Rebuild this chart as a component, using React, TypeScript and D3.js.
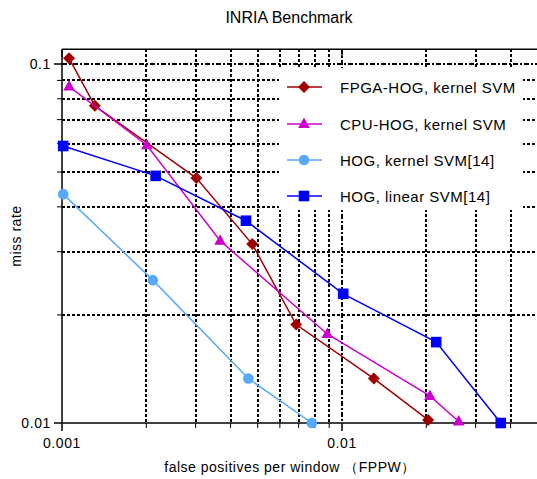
import React from "react";
import * as d3 from "d3";

const xTicksMajor = [0.001, 0.01];
const xTickLabels = ["0.001", "0.01"];
const xMinor = [0.002, 0.003, 0.004, 0.005, 0.006, 0.007, 0.008, 0.009, 0.02, 0.03, 0.04, 0.05];
const yTicksMajor = [0.1, 0.01];
const yTickLabels = ["0.1", "0.01"];
const yMinor = [0.02, 0.03, 0.04, 0.05, 0.06, 0.07, 0.08, 0.09];

const seriesNames = ["FPGA-HOG, kernel SVM", "CPU-HOG, kernel SVM", "HOG, kernel SVM[14]", "HOG, linear SVM[14]"];
const fpgaX = [0.00106, 0.00131, 0.00302, 0.00478, 0.00686, 0.013, 0.0203];
const fpgaY = [0.1037, 0.0765, 0.0481, 0.0315, 0.0188, 0.0133, 0.0102];
const cpuX = [0.00106, 0.00201, 0.00367, 0.00886, 0.0206, 0.0261];
const cpuY = [0.0865, 0.0594, 0.0322, 0.0177, 0.0119, 0.0101];
const hogKX = [0.00101, 0.00211, 0.00463, 0.0078];
const hogKY = [0.0434, 0.025, 0.0133, 0.01];
const hogLX = [0.00101, 0.00216, 0.00454, 0.0101, 0.0217, 0.0369];
const hogLY = [0.0591, 0.0488, 0.0366, 0.0229, 0.0168, 0.01];

const colors = ["#A00000", "#CC00CC", "#55AAFF", "#0000FF"];
const shapes = ["diamond", "triangle", "circle", "square"];

const FONT = "'Liberation Sans', Arial, sans-serif";

function Marker({ shape, x, y, color }: { shape: string; x: number; y: number; color: string }) {
  if (shape === "diamond") {
    return <path d={`M${x},${y - 6}L${x + 6},${y}L${x},${y + 6}L${x - 6},${y}Z`} fill={color} />;
  }
  if (shape === "triangle") {
    return <path d={`M${x},${y - 6.5}L${x + 5.8},${y + 4}L${x - 5.8},${y + 4}Z`} fill={color} />;
  }
  if (shape === "circle") {
    return <circle cx={x} cy={y} r={5.3} fill={color} />;
  }
  return <rect x={x - 5.3} y={y - 5.3} width={10.6} height={10.6} fill={color} />;
}

export default function App() {
  const x = d3.scaleLog().domain([0.001, 0.05]).range([62, 62 + 280 * Math.log10(50)]);
  const y = d3.scaleLog().domain([0.01, 0.1]).range([423, 64]);
  const top = y(0.11);
  const bottom = y(0.01);
  const left = x(0.001);
  const right = 540;

  const data = [
    fpgaX.map((v, i) => [v, fpgaY[i]]),
    cpuX.map((v, i) => [v, cpuY[i]]),
    hogKX.map((v, i) => [v, hogKY[i]]),
    hogLX.map((v, i) => [v, hogLY[i]]),
  ];
  const line = d3
    .line<number[]>()
    .x((d) => x(d[0]))
    .y((d) => y(d[1]));

  const legendRows = [87, 124, 160, 196];
  const px = (v: number) => Math.round(v);

  return (
    <svg
      width={537}
      height={479}
      style={{ position: "absolute", left: 0, top: 0, background: "#fff" }}
      fontFamily={FONT}
    >
      <rect x={0} y={0} width={537} height={479} fill="#fff" />
      <text x={289} y={23} textAnchor="middle" fontSize={16} fill="#000">
        INRIA Benchmark
      </text>

      {/* grid */}
      <g shapeRendering="crispEdges">
        {yMinor.map((v) => (
          <line key={"yg" + v} x1={left} x2={right} y1={px(y(v))} y2={px(y(v))} stroke="#000" strokeWidth={2} strokeDasharray="3,2" />
        ))}
        <line x1={left} x2={right} y1={px(y(0.1))} y2={px(y(0.1))} stroke="#000" strokeWidth={2} strokeDasharray="5,2,2,2" />
        {xMinor.map((v) => (
          <line key={"xg" + v} x1={px(x(v))} x2={px(x(v))} y1={top} y2={bottom} stroke="#000" strokeWidth={2} strokeDasharray="3,2" />
        ))}
        <line x1={px(x(0.01))} x2={px(x(0.01))} y1={top} y2={bottom} stroke="#000" strokeWidth={2} strokeDasharray="5,2,2,2" />
      </g>

      {/* axes */}
      <line x1={left} x2={right} y1={top} y2={top} stroke="#000" strokeWidth={1.5} />
      <line x1={left} x2={right} y1={bottom} y2={bottom} stroke="#000" strokeWidth={1.5} />
      <line x1={left} x2={left} y1={top} y2={bottom} stroke="#000" strokeWidth={1.5} />
      {xTicksMajor.map((v, i) => (
        <g key={"xt" + v}>
          <line x1={x(v)} x2={x(v)} y1={bottom} y2={bottom + 8} stroke="#000" strokeWidth={1.5} />
          <line x1={x(v)} x2={x(v)} y1={top} y2={top + 8} stroke="#000" strokeWidth={1.5} />
          <text x={x(v)} y={448} textAnchor="middle" fontSize={14} letterSpacing={0.6} fill="#000">
            {xTickLabels[i]}
          </text>
        </g>
      ))}
      {xMinor.map((v) => (
        <line key={"xm" + v} x1={x(v)} x2={x(v)} y1={bottom} y2={bottom + 5} stroke="#000" strokeWidth={1} />
      ))}
      {yTicksMajor.map((v, i) => (
        <g key={"yt" + v}>
          <line x1={left - 8} x2={left} y1={y(v)} y2={y(v)} stroke="#000" strokeWidth={1.5} />
          <text x={left - 11} y={y(v) + 5} textAnchor="end" fontSize={14} letterSpacing={0.6} fill="#000">
            {yTickLabels[i]}
          </text>
        </g>
      ))}
      {yMinor.map((v) => (
        <line key={"ym" + v} x1={left - 5} x2={left} y1={y(v)} y2={y(v)} stroke="#000" strokeWidth={1} />
      ))}

      <text x={290} y={472} textAnchor="middle" fontSize={14} letterSpacing={0.5} fill="#000">
        false positives per window （FPPW）
      </text>
      <text
        transform={`translate(21,${(top + bottom) / 2}) rotate(-90)`}
        textAnchor="middle"
        fontSize={14}
        letterSpacing={0.5}
        fill="#000"
      >
        miss rate
      </text>

      {/* legend background */}
      <rect x={279} y={68} width={244} height={142} fill="#fff" />

      {/* series */}
      {data.map((pts, si) => (
        <g key={"s" + si}>
          <path d={line(pts) || ""} fill="none" stroke={colors[si]} strokeWidth={1.5} />
          {pts.map((p, pi) => (
            <Marker key={pi} shape={shapes[si]} x={x(p[0])} y={y(p[1])} color={colors[si]} />
          ))}
        </g>
      ))}

      {/* legend */}
      {seriesNames.map((name, i) => (
        <g key={"lg" + i}>
          <line x1={287} x2={322} y1={legendRows[i]} y2={legendRows[i]} stroke={colors[i]} strokeWidth={1.5} />
          <Marker shape={shapes[i]} x={304} y={legendRows[i]} color={colors[i]} />
          <text x={340} y={legendRows[i] + 5.5} fontSize={15} letterSpacing={0.5} fill="#000">
            {name}
          </text>
        </g>
      ))}
    </svg>
  );
}
